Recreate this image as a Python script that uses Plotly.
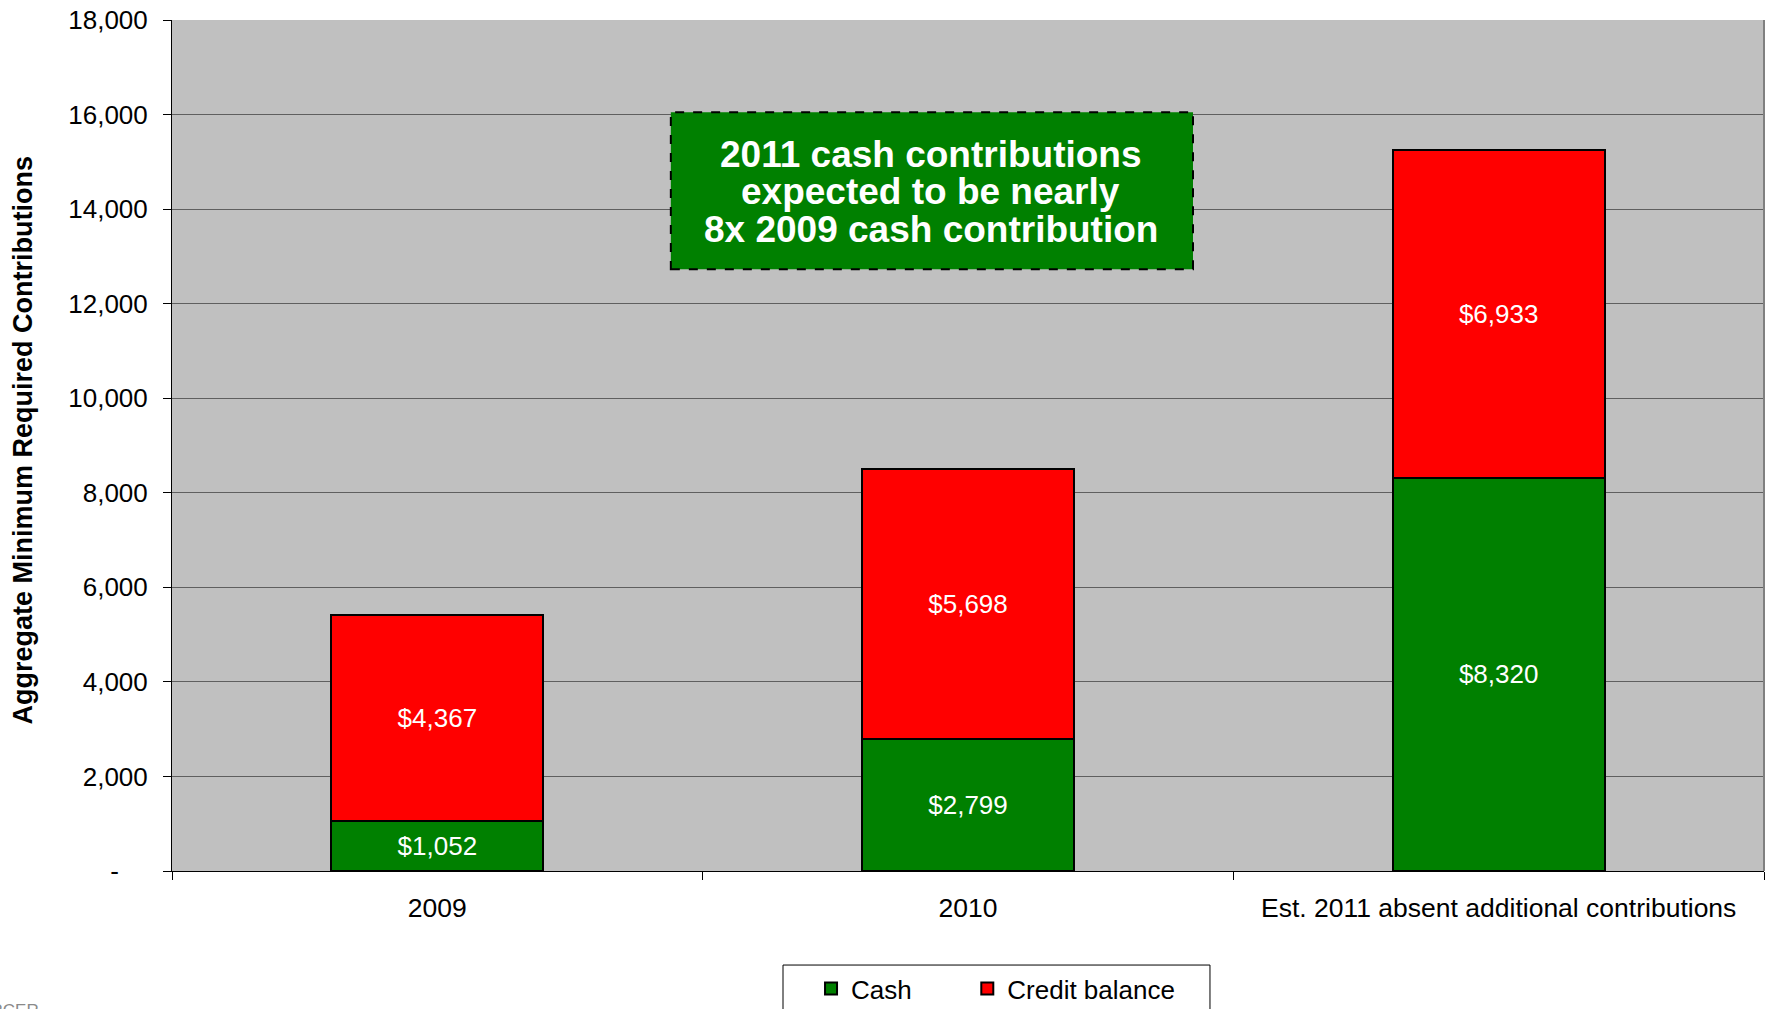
import plotly.graph_objects as go

# ---- data ----
categories = ["2009", "2010", "Est. 2011 absent additional contributions"]
cash = [1052, 2799, 8320]
credit_balance = [4367, 5698, 6933]
series_names = ["Cash", "Credit balance"]
y_tick_values = [0, 2000, 4000, 6000, 8000, 10000, 12000, 14000, 16000, 18000]
y_tick_labels = ["-\u00a0\u00a0\u00a0\u00a0", "2,000", "4,000", "6,000", "8,000", "10,000",
                 "12,000", "14,000", "16,000", "18,000"]
callout_lines = ["2011 cash contributions", "expected to be nearly", "8x 2009 cash contribution"]

FONT = "Arial, 'Liberation Sans', sans-serif"
GREEN = "#008000"
RED = "#FF0000"
NB = "\u00a0"

fig = go.Figure()
fig.add_trace(go.Bar(
    name=series_names[0] + NB * 7, x=categories, y=cash,
    marker=dict(color=GREEN, line=dict(color="black", width=2)),
    texttemplate="$%{y:,.0f}", textposition="inside", insidetextanchor="middle",
    textangle=0, textfont=dict(color="white", size=26, family=FONT),
    hoverinfo="skip",
))
fig.add_trace(go.Bar(
    name=series_names[1], x=categories, y=credit_balance,
    marker=dict(color=RED, line=dict(color="black", width=2)),
    texttemplate="$%{y:,.0f}", textposition="inside", insidetextanchor="middle",
    textangle=0, textfont=dict(color="white", size=26, family=FONT),
    hoverinfo="skip",
))

# callout box
fig.add_shape(type="rect", xref="x", yref="y", x0=0.44, x1=1.424, y0=12730, y1=16050,
              fillcolor=GREEN, line=dict(color="black", width=2, dash="dash"), layer="above")
for line_text, ly in zip(callout_lines, [15150, 14370, 13560]):
    fig.add_annotation(x=0.93, y=ly, xref="x", yref="y", text="<b>%s</b>" % line_text,
                       showarrow=False, font=dict(color="white", size=37, family=FONT),
                       xanchor="center", yanchor="middle")

# y axis title as rotated annotation
fig.add_annotation(x=-0.0936, y=0.507, xref="paper", yref="paper",
                   text="<b>Aggregate Minimum Required Contributions</b>", textangle=-90,
                   showarrow=False, font=dict(color="black", size=27, family=FONT),
                   xanchor="center", yanchor="middle")

# partially visible footer logo text
fig.add_annotation(x=-0.131, y=-0.150, xref="paper", yref="paper", text="MERCER",
                   showarrow=False, font=dict(color="#8a8a8a", size=17, family=FONT),
                   xanchor="left", yanchor="top")

# legend frame
fig.add_shape(type="rect", xref="paper", yref="paper", x0=0.3838, x1=0.652,
              y0=-0.18, y1=-0.1105, fillcolor="white", line=dict(color="black", width=1))

fig.update_layout(
    barmode="stack", bargap=0.6,
    width=1765, height=1009,
    margin=dict(l=172, r=1, t=20, b=138, autoexpand=False),
    paper_bgcolor="white", plot_bgcolor="#C0C0C0",
    font=dict(family=FONT, size=26, color="black"),
    showlegend=True,
    legend=dict(orientation="h", x=0.4014, y=-0.1105, xanchor="left", yanchor="top",
                borderwidth=0, bgcolor="rgba(0,0,0,0)",
                font=dict(size=26, family=FONT), traceorder="normal"),
    xaxis=dict(type="category", showline=True, linecolor="black", linewidth=1,
               ticks="outside", ticklen=8, tickcolor="black", tickson="boundaries",
               showgrid=False, tickfont=dict(size=26.5, family=FONT),
               ticklabelstandoff=13),
    yaxis=dict(range=[0, 18000], tickvals=y_tick_values, ticktext=y_tick_labels,
               showline=True, linecolor="black", linewidth=1,
               ticks="outside", ticklen=8, tickcolor="black",
               showgrid=True, gridcolor="#5f5f5f", gridwidth=1, zeroline=False,
               tickfont=dict(size=26, family=FONT), ticklabelstandoff=10),
)

fig.add_shape(type="line", xref="paper", yref="paper", x0=1, x1=1, y0=0, y1=1,
              line=dict(color="#808080", width=2))

fig.write_html("out.html", config={"displayModeBar": False},
               post_script="document.body.style.margin='0';document.body.style.overflow='hidden';")
